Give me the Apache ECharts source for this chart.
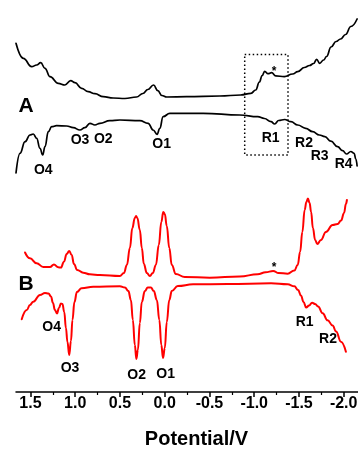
<!DOCTYPE html>
<html><head><meta charset="utf-8">
<script src="https://cdn.jsdelivr.net/npm/echarts@6/dist/echarts.min.js"></script>
<style>html,body{margin:0;padding:0;background:#fff}#c{width:358px;height:450px}</style>
</head><body><div id="c"></div><script>
// Potential axis ticks (V)
const potentialTicks = [1.5, 1.0, 0.5, 0.0, -0.5, -1.0, -1.5, -2.0];
const minorTicks = [1.25, 0.75, 0.25, -0.25, -0.75, -1.25, -1.75];

// Curve A (black), upper trace: [potential V, current a.u.]
const aUpper = [
[1.662,348.7],[1.580,333.7],[1.487,325.3],[1.431,327],[1.386,329.3],[1.338,323.7],[1.282,315.3],
[1.190,308.7],[1.115,307],[1.051,311.3],[1.003,309.3],[0.929,303.7],[0.855,300.3],[0.780,298.3],
[0.687,295.3],[0.576,294],[0.445,293.5],[0.315,295],[0.244,298.5],[0.189,302.5],[0.125,307],
[0.077,301.3],[0.032,296.5],[-0.023,295],[-0.243,295.3],[-0.615,296],[-0.849,297],[-0.964,298.7],
[-1.017,302],[-1.058,310],[-1.089,316.5],[-1.117,320.7],[-1.154,318.3],[-1.195,319.3],[-1.240,316.2],
[-1.337,315.3],[-1.430,318],[-1.486,320.3],[-1.560,324.5],[-1.619,326.5],[-1.664,328.5],[-1.698,332.7],
[-1.731,328.7],[-1.776,332],[-1.809,335.5],[-1.859,345],[-1.915,350.5],[-1.965,353],[-2.021,357.5],
[-2.080,365.5],[-2.150,373]
];
// Curve A (black), lower trace
const aLower = [
[1.662,219],[1.617,238.7],[1.561,250.3],[1.506,257],[1.469,258],[1.431,253.7],[1.394,243.7],
[1.364,237],[1.338,245.3],[1.301,260.3],[1.263,265.3],[1.208,266.3],[1.096,266],[1.022,264.3],
[0.948,262],[0.892,264.3],[0.836,268.7],[0.780,267],[0.724,268.7],[0.613,271.3],[0.501,272],
[0.278,271.3],[0.185,268.7],[0.129,262],[0.085,257.7],[0.055,263.7],[0.018,275.3],[-0.057,278.7],
[-0.429,278.7],[-0.838,277],[-1.039,275.3],[-1.114,273.5],[-1.188,270.3],[-1.229,268],[-1.273,271.5],
[-1.340,272.5],[-1.411,270.3],[-1.486,267],[-1.575,263.7],[-1.653,260.3],[-1.728,257],[-1.790,255.3],
[-1.857,250.8],[-1.932,245.3],[-1.988,241.3],[-2.032,238],[-2.080,240.5],[-2.116,238.7],[-2.136,233],
[-2.150,226]
];
// Curve B (red), upper trace
const bUpper = [
[1.561,139.5],[1.506,133.7],[1.431,128.7],[1.357,125],[1.282,125],[1.238,127.5],[1.190,124.7],
[1.160,124.5],[1.126,130.3],[1.096,138],[1.067,141],[1.040,137],[1.014,128],[0.978,122],[0.911,119.3],
[0.836,117.7],[0.724,117],[0.501,116],[0.456,119],[0.423,127],[0.389,144],[0.362,164],[0.334,174],
[0.320,176],[0.306,174],[0.278,162],[0.256,144],[0.233,128],[0.200,119],[0.166,116],[0.133,119],
[0.099,127],[0.066,147],[0.038,170],[0.016,180],[-0.001,178],[-0.023,166],[-0.051,144],[-0.079,127],
[-0.124,118],[-0.224,115],[-0.503,114.3],[-0.838,115.5],[-1.039,117.8],[-1.128,119.7],[-1.212,121],
[-1.273,119],[-1.374,118.3],[-1.449,121.5],[-1.486,127],[-1.513,140],[-1.538,160],[-1.564,182],
[-1.583,190],[-1.600,193.5],[-1.619,189],[-1.636,180],[-1.656,164],[-1.681,152],[-1.705,148],
[-1.746,152],[-1.801,160],[-1.876,167],[-1.932,168],[-1.971,171.5],[-2.004,179],[-2.025,188],[-2.036,192]
];
// Curve B (red), lower trace
const bLower = [
[1.598,72.7],[1.542,82],[1.506,87],[1.469,90.3],[1.394,97],[1.338,99],[1.299,98.5],[1.271,95.5],
[1.249,89],[1.227,82],[1.204,78.5],[1.182,84],[1.160,88.5],[1.143,88],[1.123,80],[1.104,64],
[1.087,50],[1.067,37],[1.048,51],[1.031,72],[1.009,90],[0.981,100],[0.929,103.7],[0.799,105.3],
[0.501,105.7],[0.445,104.5],[0.406,101],[0.378,92],[0.356,72],[0.334,47],[0.317,33],[0.300,42],
[0.278,69],[0.256,90],[0.222,101],[0.189,104.5],[0.155,104.5],[0.122,101],[0.088,92],[0.060,72],
[0.038,47],[0.019,34],[-0.001,44],[-0.023,70],[-0.051,92],[-0.079,101],[-0.146,106],[-0.317,107.7],
[-0.704,108],[-1.188,108.7],[-1.374,107.7],[-1.449,105.7],[-1.491,102],[-1.522,96.5],[-1.552,90],
[-1.580,84.5],[-1.614,86.5],[-1.647,89.3],[-1.681,88],[-1.714,85.5],[-1.765,78.7],[-1.820,71.7],
[-1.876,66.5],[-1.915,60.5],[-1.969,50.3],[-2.025,40.3]
];

const FONT = '"Liberation Sans", Arial, sans-serif';
const chart = echarts.init(document.getElementById('c'), null, {renderer: 'canvas'});

function line(data, color, width) {
  return {type: 'line', data: data, symbol: 'none', smooth: 0.45, smoothMonotone: 'x',
    lineStyle: {color: color, width: width, join: 'round', cap: 'round'}, silent: true, animation: false};
}
function lbl(text, x, y, size, weight) {
  return {type: 'text', x: x, y: y, style: {text: text, fill: '#000', font: (weight||'bold') + ' ' + size + 'px ' + FONT,
    textAlign: 'center', textVerticalAlign: 'middle'}};
}

const option = {
  animation: false,
  backgroundColor: '#fff',
  grid: {left: 16, right: 0, top: 0, bottom: 58, containLabel: false, outerBoundsMode: 'none'},
  xAxis: [{
    type: 'value', min: -2.16, max: 1.662, inverse: true, position: 'bottom',
    axisLine: {show: true, onZero: false, lineStyle: {color: '#000', width: 1.5}},
    axisTick: {show: true, inside: false, length: 5, customValues: potentialTicks, lineStyle: {color: '#000', width: 1.5}},
    axisLabel: {show: true, customValues: potentialTicks, margin: 4, color: '#000', fontFamily: FONT, fontWeight: 'bold', fontSize: 16,
      hideOverlap: false, showMinLabel: true, showMaxLabel: true, formatter: v => Number(v).toFixed(1)},
    splitLine: {show: false}
  }, {
    type: 'value', min: -2.16, max: 1.662, inverse: true, position: 'bottom',
    axisLine: {show: false, onZero: false},
    axisTick: {show: true, inside: false, length: 3, customValues: minorTicks, lineStyle: {color: '#000', width: 1.2}},
    axisLabel: {show: false}, splitLine: {show: false}
  }],
  yAxis: {type: 'value', min: 0, max: 392, show: false, splitLine: {show: false}},
  series: [
    line(aUpper, '#000', 1.7), line(aLower, '#000', 1.7),
    line(bUpper, '#ff0000', 2), line(bLower, '#ff0000', 2)
  ],
  graphic: [
    {type: 'rect', shape: {x: 244.7, y: 54.5, width: 43.3, height: 100.5},
      style: {fill: 'none', stroke: '#000', lineWidth: 1.5, lineDash: [1.5, 2.5]}},
    lbl('A', 26, 106, 21), lbl('B', 26, 284, 21),
    lbl('O4', 43.3, 170, 14), lbl('O3', 80, 140, 14), lbl('O2', 103.3, 139.3, 14), lbl('O1', 161.7, 144, 14),
    lbl('R1', 270.7, 138.3, 14), lbl('R2', 304, 142.7, 14), lbl('R3', 319.7, 156, 14), lbl('R4', 343.7, 164, 14),
    lbl('O4', 51.7, 327, 14), lbl('O3', 70, 368.5, 14), lbl('O2', 136.7, 375, 14), lbl('O1', 165.7, 374, 14),
    lbl('R1', 304.7, 322, 14), lbl('R2', 328, 339.5, 14),
    lbl('*', 274, 72, 12), lbl('*', 274, 268, 12),
    lbl('Potential/V', 196.5, 439, 20)
  ]
};
chart.setOption(option);
</script></body></html>
